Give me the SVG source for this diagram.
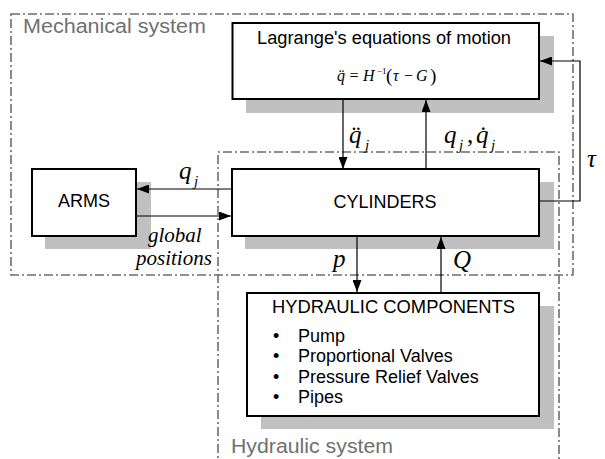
<svg xmlns="http://www.w3.org/2000/svg" width="605" height="459" viewBox="0 0 605 459">
<style>
.bg{fill:#ffffff}
.sys{fill:none;stroke:#6e6e6e;stroke-width:1.6;stroke-dasharray:9,3,2,3}
.syslbl{font-family:"Liberation Sans",Arial,sans-serif;font-size:20px;fill:#707070}
.box{fill:#ffffff;stroke:#000;stroke-width:2}
.shadow{fill:#c0c0c0}
.lbl{font-family:"Liberation Sans",Arial,sans-serif;font-size:18px;fill:#000}
.m{font-family:"Liberation Serif","Times New Roman",serif;font-style:italic;fill:#000}
.n{font-style:normal}
.c{fill:none;stroke:#000;stroke-width:1.2}
</style>
<defs>
<marker id="ah" markerUnits="userSpaceOnUse" markerWidth="13" markerHeight="9" refX="12" refY="4.5" orient="auto">
<path d="M0,0 L12,4.5 L0,9 z" fill="#000"/>
</marker>
</defs>
<rect class="bg" x="0" y="0" width="605" height="459"/>

<g id="mechanical-system">
<rect class="sys" x="11" y="14" width="562" height="261"/>
<text class="syslbl" x="23" y="33" textLength="183" lengthAdjust="spacingAndGlyphs">Mechanical system</text>
</g>
<g id="hydraulic-system">
<path class="sys" d="M218,470 L218,152 L559,152 L559,470"/>
<text class="syslbl" x="231" y="453" textLength="162" lengthAdjust="spacingAndGlyphs">Hydraulic system</text>
</g>

<g id="lagrange">
<rect class="shadow" x="246" y="36" width="308" height="77"/>
<rect class="box" x="232.5" y="23" width="306.5" height="76"/>
<text class="lbl" x="384" y="44" text-anchor="middle" textLength="254" lengthAdjust="spacingAndGlyphs">Lagrange's equations of motion</text>
<text class="m" font-size="16" y="81"><tspan x="337">q̈</tspan><tspan class="n" x="349.5">=</tspan><tspan x="363">H</tspan><tspan class="n" font-size="9" x="377" y="74">−1</tspan><tspan class="n" font-size="19" x="386" y="82">(</tspan><tspan x="393" y="81">τ</tspan><tspan class="n" x="404">−</tspan><tspan x="416">G</tspan><tspan class="n" font-size="19" x="430" y="82">)</tspan></text>
</g>

<g id="arms">
<rect class="shadow" x="45" y="182" width="106" height="67"/>
<rect class="box" x="32" y="169" width="104" height="67"/>
<text class="lbl" x="84" y="207" text-anchor="middle">ARMS</text>
</g>

<g id="cylinders">
<rect class="shadow" x="245" y="182" width="309" height="67"/>
<rect class="box" x="232" y="169" width="307" height="67"/>
<text class="lbl" x="385" y="208" text-anchor="middle">CYLINDERS</text>
</g>

<g id="hydraulic-components">
<rect class="shadow" x="261" y="306" width="293" height="123"/>
<rect class="box" x="247" y="293" width="292" height="123"/>
<text class="lbl" x="272" y="313" textLength="243" lengthAdjust="spacingAndGlyphs">HYDRAULIC COMPONENTS</text>
<text class="lbl" x="273" y="342">•</text>
<text class="lbl" x="298" y="342">Pump</text>
<text class="lbl" x="273" y="362">•</text>
<text class="lbl" x="298" y="362">Proportional Valves</text>
<text class="lbl" x="273" y="383">•</text>
<text class="lbl" x="298" y="383">Pressure Relief Valves</text>
<text class="lbl" x="273" y="403">•</text>
<text class="lbl" x="298" y="403">Pipes</text>
</g>

<g id="connectors">
<line class="c" x1="343" y1="99" x2="343" y2="169" marker-end="url(#ah)"/>
<line class="c" x1="426" y1="169" x2="426" y2="100" marker-end="url(#ah)"/>
<polyline class="c" points="539,201 580,201 580,61 540,61" marker-end="url(#ah)"/>
<line class="c" x1="232" y1="189" x2="137" y2="189" marker-end="url(#ah)"/>
<line class="c" x1="136" y1="216" x2="231" y2="216" marker-end="url(#ah)"/>
<line class="c" x1="357" y1="236" x2="357" y2="292" marker-end="url(#ah)"/>
<line class="c" x1="441" y1="292" x2="441" y2="237" marker-end="url(#ah)"/>

<text class="m" font-size="25"><tspan x="349" y="143">q̈</tspan><tspan font-size="15" x="365" y="150">j</tspan></text>

<text class="m" font-size="25"><tspan x="444" y="143">q</tspan><tspan font-size="15" x="459" y="150">j</tspan><tspan class="n" x="467" y="143">,</tspan><tspan x="476" y="143">q̇</tspan><tspan font-size="15" x="491" y="150">j</tspan></text>

<text class="m" font-size="25" x="587" y="167">τ</text>

<text class="m" font-size="25"><tspan x="179" y="179">q</tspan><tspan font-size="15" x="194" y="186">j</tspan></text>

<text class="m" font-size="21" x="148" y="242">global</text>
<text class="m" font-size="21" x="136" y="265">positions</text>

<text class="m" font-size="25" x="333" y="267">p</text>
<text class="m" font-size="25" x="453" y="268">Q</text>
</g>
</svg>
